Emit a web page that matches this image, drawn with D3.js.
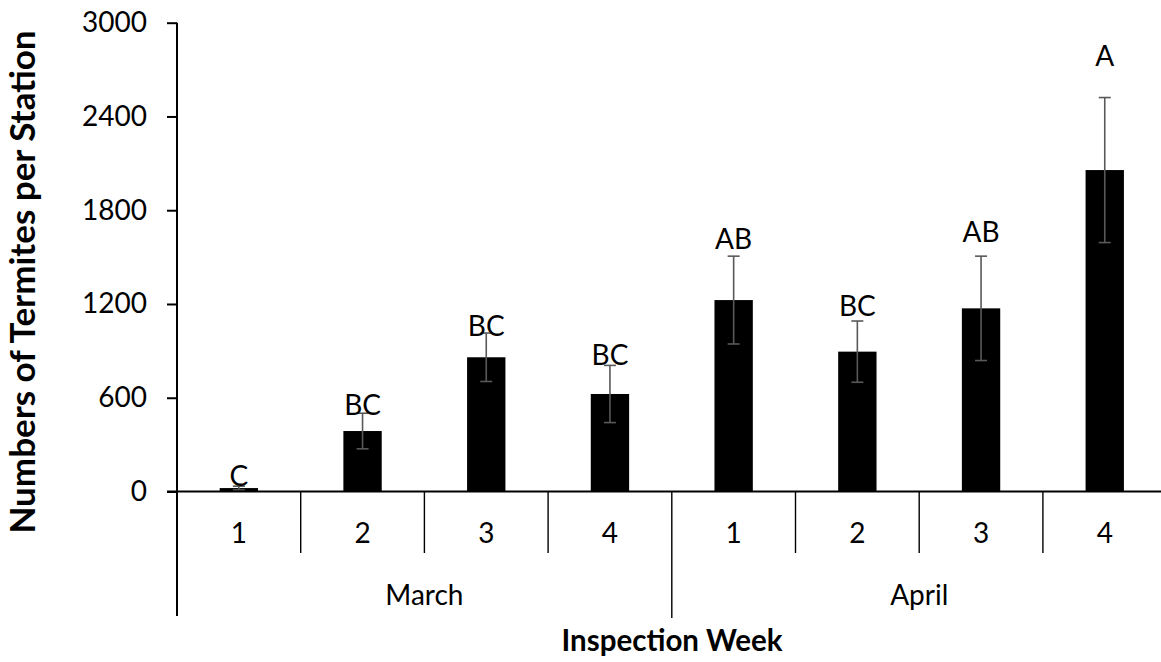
<!DOCTYPE html>
<html>
<head>
<meta charset="utf-8">
<script src="https://cdn.jsdelivr.net/npm/d3@7"></script>
<style>
  html, body { margin: 0; padding: 0; background: #fff; }
  svg { display: block; font-family: Lato, "Open Sans", sans-serif; }
</style>
</head>
<body>
<svg id="chart" width="1161" height="662"></svg>
<script>
// Termite counts per station by inspection week
const months = ["March", "April"];
const weeks = ["1", "2", "3", "4", "1", "2", "3", "4"];
const meanCounts = [22, 387, 859, 624, 1225, 895, 1172, 2057];
const stdErrors = [12, 114, 155, 183, 281, 196, 334, 464];
const groupLetters = ["C", "BC", "BC", "BC", "AB", "BC", "AB", "A"];
const letterHeights = [35, 487, 992, 809, 1552, 1120, 1597, 2723];
const yTicks = [0, 600, 1200, 1800, 2400, 3000];

const svg = d3.select("#chart");
const plotLeft = 177, plotRight = 1166.6, plotTop = 22.7, plotBase = 491.5;

const x = d3.scaleBand()
  .domain(d3.range(weeks.length))
  .range([plotLeft, plotRight])
  .paddingInner(0).paddingOuter(0);
const y = d3.scaleLinear().domain([0, 3000]).range([plotBase, plotTop]);

const barW = x.bandwidth() * 0.31;

// bars
svg.append("g").selectAll("rect")
  .data(meanCounts)
  .join("rect")
  .attr("x", (d, i) => x(i) + x.bandwidth() / 2 - barW / 2)
  .attr("y", d => y(d))
  .attr("width", barW)
  .attr("height", d => y(0) - y(d))
  .attr("fill", "#000");

// error bars
const eb = svg.append("g").attr("stroke", "#595959").attr("stroke-width", 1.6);
meanCounts.forEach((m, i) => {
  const cx = x(i) + x.bandwidth() / 2;
  const hi = y(m + stdErrors[i]), lo = y(Math.max(0, m - stdErrors[i]));
  eb.append("line").attr("x1", cx).attr("x2", cx).attr("y1", hi).attr("y2", lo);
  eb.append("line").attr("x1", cx - 6).attr("x2", cx + 6).attr("y1", hi).attr("y2", hi);
  eb.append("line").attr("x1", cx - 6).attr("x2", cx + 6).attr("y1", lo).attr("y2", lo);
});

// significance letters
svg.append("g").selectAll("text")
  .data(groupLetters)
  .join("text")
  .attr("x", (d, i) => x(i) + x.bandwidth() / 2)
  .attr("y", (d, i) => y(letterHeights[i]))
  .attr("text-anchor", "middle")
  .attr("font-size", 28)
  .attr("fill", "#000")
  .text(d => d);

// y axis
const yAxis = d3.axisLeft(y).tickValues(yTicks).tickSize(10).tickPadding(20).tickFormat(d3.format("d"));
const ga = svg.append("g").attr("transform", `translate(${plotLeft},0)`).call(yAxis);
ga.select(".domain").attr("stroke", "#000").attr("stroke-width", 2).attr("d", `M0,${plotTop}V${plotBase}`);
ga.selectAll(".tick line").attr("stroke", "#000").attr("stroke-width", 2);
ga.selectAll(".tick text").attr("font-size", 28).attr("fill", "#000").attr("font-family", "Lato, 'Open Sans', sans-serif");

// category axis baseline
svg.append("line").attr("x1", plotLeft - 10).attr("x2", 1161).attr("y1", plotBase).attr("y2", plotBase)
  .attr("stroke", "#000").attr("stroke-width", 2);

// left edge extends down through both label rows
svg.append("line").attr("x1", plotLeft).attr("x2", plotLeft).attr("y1", plotBase).attr("y2", 616)
  .attr("stroke", "#000").attr("stroke-width", 2);

// week dividers
const divs = svg.append("g").attr("stroke", "#000").attr("stroke-width", 1.4);
d3.range(1, weeks.length).forEach(i => {
  const bx = x(i);
  const monthEdge = i % 4 === 0;
  divs.append("line").attr("x1", bx).attr("x2", bx).attr("y1", plotBase).attr("y2", monthEdge ? 618 : 553);
});

// week labels
svg.append("g").selectAll("text")
  .data(weeks)
  .join("text")
  .attr("x", (d, i) => x(i) + x.bandwidth() / 2)
  .attr("y", 542.5)
  .attr("text-anchor", "middle")
  .attr("font-size", 28)
  .text(d => d);

// month labels
svg.append("g").selectAll("text")
  .data(months)
  .join("text")
  .attr("x", (d, i) => (x(i * 4) + x(i * 4 + 3) + x.bandwidth()) / 2)
  .attr("y", 604.5)
  .attr("text-anchor", "middle")
  .attr("font-size", 28)
  .text(d => d);

// axis titles
svg.append("text")
  .attr("x", 672).attr("y", 650.5)
  .attr("text-anchor", "middle")
  .attr("font-size", 29.5).attr("font-weight", "bold")
  .text("Inspection Week");

svg.append("text")
  .attr("transform", "translate(35,282) rotate(-90)")
  .attr("text-anchor", "middle")
  .attr("font-size", 35).attr("font-weight", "bold")
  .text("Numbers of Termites per Station");
</script>
</body>
</html>
